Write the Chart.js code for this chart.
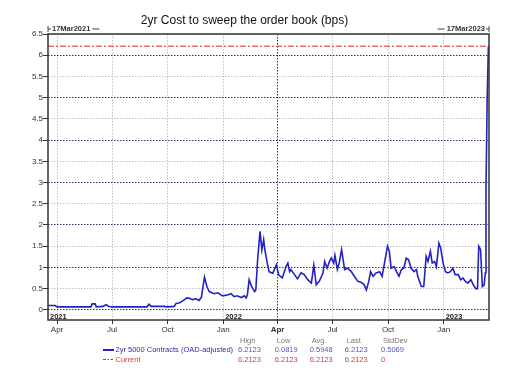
<!DOCTYPE html>
<html>
<head>
<meta charset="utf-8">
<script src="https://cdn.jsdelivr.net/npm/chart.js"></script>
<style>
  html, body { margin: 0; padding: 0; background: #fff; }
  #wrap { width: 526px; height: 384px; }
</style>
</head>
<body>
<div id="wrap"><canvas id="myChart" width="526" height="384"></canvas></div>
<script>
// days since 17Mar2021, cost in bps
const days = [0, 12, 15, 71, 73, 78, 80, 91, 96, 101, 106, 130, 164, 167, 171, 192, 197,
  209, 212, 217, 222, 230, 234, 239, 245, 250, 254, 259, 263, 267, 275, 281, 289, 297, 303,
  308, 313, 320, 325, 328, 330, 333, 337, 342, 344, 347, 351, 354, 357, 359, 363, 366, 372,
  378, 382, 388, 394, 397, 400, 402, 408, 413, 419, 424, 430, 436, 440, 444, 449, 455, 458,
  462, 466, 469, 473, 475, 479, 482, 486, 491, 496, 502, 507, 513, 518, 523, 527, 531, 534,
  538, 543, 549, 553, 557, 562, 565, 568, 573, 577, 581, 585, 589, 593, 597, 601, 606, 610,
  612, 618, 622, 626, 629, 633, 636, 640, 643, 647, 650, 654, 658, 662, 666, 670, 674, 679,
  683, 687, 691, 695, 700, 704, 708, 711, 713, 716, 719, 722, 724, 725, 727, 729];
const costBps = [0.10, 0.10, 0.07, 0.07, 0.14, 0.14, 0.07, 0.08, 0.12, 0.08, 0.07, 0.07, 0.07, 0.13, 0.08, 0.08, 0.07,
  0.08, 0.15, 0.16, 0.20, 0.28, 0.27, 0.24, 0.26, 0.22, 0.30, 0.77, 0.55, 0.43, 0.38, 0.40, 0.33, 0.35, 0.38,
  0.31, 0.33, 0.29, 0.33, 0.28, 0.35, 0.71, 0.55, 0.43, 0.47, 1.18, 1.85, 1.41, 1.65, 1.41, 1.10, 0.90, 0.86,
  1.06, 0.82, 0.75, 1.02, 1.10, 0.90, 0.95, 0.83, 0.73, 0.87, 0.83, 0.71, 0.63, 1.05, 0.59, 0.67, 0.86, 1.14,
  0.98, 1.14, 1.22, 1.10, 1.28, 0.95, 1.10, 1.42, 0.95, 0.98, 0.90, 0.79, 0.67, 0.65, 0.60, 0.47, 0.67, 0.90,
  0.79, 0.87, 0.90, 0.79, 1.10, 1.50, 1.38, 0.98, 1.02, 0.90, 0.79, 0.95, 0.98, 1.22, 1.18, 0.98, 0.90, 0.95,
  0.79, 0.55, 0.55, 1.26, 1.14, 1.38, 1.10, 1.14, 1.02, 1.57, 1.46, 1.10, 0.90, 0.87, 0.90, 0.98, 0.83, 0.83,
  0.71, 0.75, 0.67, 0.63, 0.71, 0.59, 0.50, 0.50, 1.50, 1.42, 0.55, 0.59, 0.87, 2.80, 5.00, 6.2123];
const currentValue = 6.2123;
const lastDay = 730;

const xTickDays = [15, 106, 198, 290, 380, 471, 563, 655];
const xTickLabels = ['Apr', 'Jul', 'Oct', 'Jan', 'Apr', 'Jul', 'Oct', 'Jan'];
const yearDays = [0, 290, 655];
const yearLabels = ['2021', '2022', '2023'];
const yTicks = [0, 0.5, 1, 1.5, 2, 2.5, 3, 3.5, 4, 4.5, 5, 5.5, 6, 6.5];
const rangeLabels = ['17Mar2021', '17Mar2023'];

const statHeaders = ['High', 'Low', 'Avg.', 'Last', 'StdDev'];
const seriesNames = ['2yr 5000 Contracts (OAD-adjusted)', 'Current'];
const seriesStats = ['6.2123', '0.0819', '0.5948', '6.2123', '0.5069'];
const currentStats = ['6.2123', '6.2123', '6.2123', '6.2123', '0'];

const FONT = '"Liberation Sans", Arial, sans-serif';
const BLUE = '#2222c4';
const RED = '#d42a2a';
const GRID_DARK = '#2c2c6e';
const GRID_LIGHT = '#c2c2c2';

const decor = {
  id: 'decor',
  afterDatasetsDraw(chart) {
    const { ctx, chartArea: a, scales: { x } } = chart;
    ctx.save();
    // plot frame
    ctx.strokeStyle = '#333';
    ctx.lineWidth = 1.5;
    ctx.strokeRect(a.left, a.top, a.right - a.left, a.bottom - a.top);

    // year labels inside the plot
    ctx.font = 'bold 7.5px ' + FONT;
    ctx.fillStyle = '#222';
    ctx.textAlign = 'left';
    ctx.textBaseline = 'alphabetic';
    yearDays.forEach((d, i) => ctx.fillText(yearLabels[i], x.getPixelForValue(d) + 2, a.bottom - 1.5));

    // date range marks above the plot
    const ty = a.top - 5;
    ctx.font = 'bold 7.5px ' + FONT;
    ctx.fillStyle = '#333';
    ctx.strokeStyle = '#444';
    ctx.lineWidth = 1;
    ctx.textBaseline = 'middle';
    ctx.beginPath();
    ctx.moveTo(a.left, ty - 3); ctx.lineTo(a.left, ty + 3);
    ctx.moveTo(a.left, ty); ctx.lineTo(a.left + 3, ty);
    ctx.stroke();
    ctx.textAlign = 'left';
    ctx.fillText(rangeLabels[0], a.left + 4, ty);
    let w = ctx.measureText(rangeLabels[0]).width;
    ctx.beginPath();
    ctx.moveTo(a.left + 6 + w, ty); ctx.lineTo(a.left + 13 + w, ty);
    ctx.stroke();

    ctx.textAlign = 'right';
    ctx.fillText(rangeLabels[1], a.right - 4, ty);
    w = ctx.measureText(rangeLabels[1]).width;
    ctx.beginPath();
    ctx.moveTo(a.right, ty - 3); ctx.lineTo(a.right, ty + 3);
    ctx.moveTo(a.right, ty); ctx.lineTo(a.right - 3, ty);
    ctx.moveTo(a.right - 6 - w, ty); ctx.lineTo(a.right - 13 - w, ty);
    ctx.stroke();
    ctx.restore();
  },
  afterDraw(chart) {
    const ctx = chart.ctx;
    const cols = [238, 274.7, 309.7, 344.7, 381];
    ctx.save();
    ctx.font = '7.5px ' + FONT;
    ctx.textBaseline = 'middle';
    ctx.textAlign = 'left';
    ctx.fillStyle = '#777';
    statHeaders.forEach((h, i) => ctx.fillText(h, cols[i] + 2, 341));

    // series row
    ctx.strokeStyle = BLUE;
    ctx.lineWidth = 2;
    ctx.beginPath(); ctx.moveTo(103, 350); ctx.lineTo(114, 350); ctx.stroke();
    ctx.fillStyle = '#2e2ea8';
    ctx.fillText(seriesNames[0], 115.5, 350);
    ctx.fillStyle = '#5555bd';
    seriesStats.forEach((s, i) => ctx.fillText(s, cols[i], 350));

    // current row
    ctx.strokeStyle = RED;
    ctx.lineWidth = 1;
    ctx.setLineDash([3, 1.5, 1.5, 1.5]);
    ctx.beginPath(); ctx.moveTo(103, 359.5); ctx.lineTo(113, 359.5); ctx.stroke();
    ctx.setLineDash([]);
    ctx.fillStyle = '#d04040';
    ctx.fillText(seriesNames[1], 115.5, 359.5);
    currentStats.forEach((s, i) => ctx.fillText(s, cols[i], 359.5));
    ctx.restore();
  }
};

new Chart(document.getElementById('myChart'), {
  type: 'line',
  data: {
    datasets: [
      {
        label: seriesNames[0],
        data: days.map((d, i) => ({ x: d, y: costBps[i] })),
        borderColor: BLUE,
        borderWidth: 1.6,
        pointRadius: 0,
        tension: 0,
        fill: false
      },
      {
        label: seriesNames[1],
        data: [{ x: 0, y: currentValue }, { x: lastDay, y: currentValue }],
        borderColor: RED,
        borderWidth: 1,
        borderDash: [6, 2, 2, 2],
        pointRadius: 0,
        fill: false
      }
    ]
  },
  options: {
    responsive: false,
    animation: false,
    devicePixelRatio: 1,
    events: [],
    layout: { padding: { left: 0, right: 37, top: 0, bottom: 0 } },
    plugins: {
      legend: { display: false },
      tooltip: { enabled: false },
      title: {
        display: true,
        text: '2yr Cost to sweep the order book (bps)',
        color: '#111',
        font: { family: FONT, size: 12, weight: 'normal' },
        padding: { top: 13, bottom: 6.6 }
      }
    },
    scales: {
      x: {
        type: 'linear',
        min: 0,
        max: lastDay,
        afterFit(s) { s.height = 64; },
        afterBuildTicks(s) { s.ticks = xTickDays.map(v => ({ value: v })); },
        ticks: {
          autoSkip: false,
          maxRotation: 0,
          padding: 1,
          color: '#333',
          font: c => ({ family: FONT, size: 8, weight: c.index === 4 ? 'bold' : 'normal' }),
          callback: (v, i) => xTickLabels[i]
        },
        grid: {
          color: c => c.index === 4 ? GRID_DARK : GRID_LIGHT,
          lineWidth: 1,
          tickLength: 4,
          tickColor: '#333'
        },
        border: { display: false, dash: [1.5, 1.5] }
      },
      y: {
        min: -0.24,
        max: 6.5,
        afterFit(s) { s.width = 48; },
        afterBuildTicks(s) { s.ticks = yTicks.map(v => ({ value: v })); },
        ticks: {
          padding: 0,
          color: '#333',
          font: { family: FONT, size: 8 },
          callback: v => String(v)
        },
        grid: {
          color: c => Number.isInteger(c.tick.value) ? GRID_DARK : GRID_LIGHT,
          lineWidth: 1,
          tickLength: 5,
          tickColor: '#333'
        },
        border: { display: false, dash: [1.5, 1.5] }
      }
    }
  },
  plugins: [decor]
});
</script>
</body>
</html>
